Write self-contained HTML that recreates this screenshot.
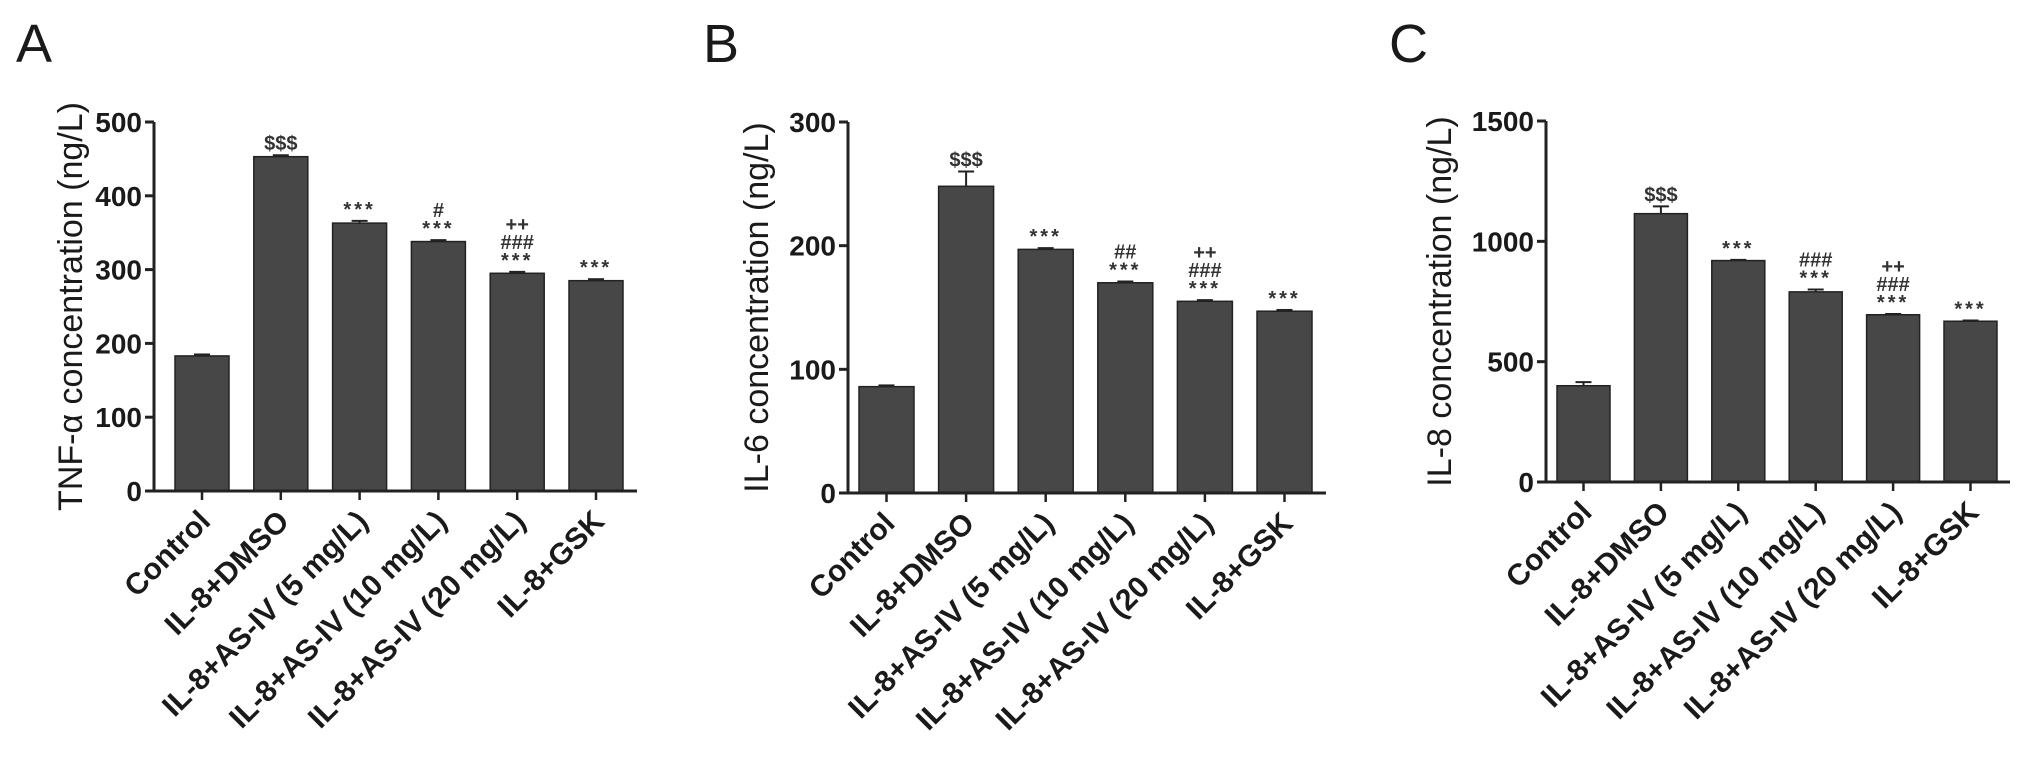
<!DOCTYPE html>
<html><head><meta charset="utf-8"><style>
html,body{margin:0;padding:0;background:#fff;}
svg{display:block;font-family:"Liberation Sans",Arial,sans-serif;}
</style></head><body>
<svg id="fig" width="2043" height="782" viewBox="0 0 2043 782" xmlns="http://www.w3.org/2000/svg"></svg>
<script>
const categories = ["Control","IL-8+DMSO","IL-8+AS-IV (5 mg/L)","IL-8+AS-IV (10 mg/L)","IL-8+AS-IV (20 mg/L)","IL-8+GSK"];
const tnfValues = [183,453,363,338,295,285];
const tnfErrors = [2,2,3,2,2,2];
const il6Values = [86,248,197,170,155,147];
const il6Errors = [1,12,1,1,1,1];
const il8Values = [400,1115,920,790,695,668];
const il8Errors = [15,30,3,10,3,3];
const tnfTicks = [0,100,200,300,400,500];
const il6Ticks = [0,100,200,300];
const il8Ticks = [0,500,1000,1500];
const tnfAnn = [[],["$$$"],["***"],["#","***"],["++","###","***"],["***"]];
const il6Ann = [[],["$$$"],["***"],["##","***"],["++","###","***"],["***"]];
const il8Ann = [[],["$$$"],["***"],["###","***"],["++","###","***"],["***"]];

const NS="http://www.w3.org/2000/svg";
const svg=document.getElementById('fig');
function mk(tag,attrs,parent){const e=document.createElementNS(NS,tag);for(const k in attrs)e.setAttribute(k,attrs[k]);(parent||svg).appendChild(e);return e;}

function panel(cfg){
  const g=mk('g',{});
  
  
  const y=v=>cfg.y0-(v/cfg.max)*(cfg.y0-cfg.yTop);
  const x=i=>cfg.c0+i*cfg.pitch;
  const letter=mk('text',{x:cfg.lx,y:62,'font-size':54,fill:'#1a1a1a'},g);letter.textContent=cfg.letter;
  
  
  cfg.values.forEach((v,i)=>{
    const cx=x(i),top=y(v),et=y(v+cfg.errors[i]);
    const eb=mk('g',{stroke:'#222','stroke-width':2},g);
    mk('line',{x1:cx,x2:cx,y1:top,y2:et},eb);
    mk('line',{x1:cx-8,x2:cx+8,y1:et,y2:et},eb);
    
    
    const r=mk('rect',{x:cx-cfg.bw/2,y:top,width:cfg.bw,height:cfg.y0-top,fill:'#474747',stroke:'#222','stroke-width':1.5},g);
    
    
    const ann=cfg.ann[i];
    ann.forEach((s,k)=>{
      const t=mk('text',{x:cx,y:et-5-(ann.length-1-k)*18,'text-anchor':'middle','font-size':20,'font-weight':'bold','letter-spacing':s[0]==='*'?3:0,fill:'#333'},g);
      t.textContent=s;
      
      
    });
    mk('line',{x1:cx,x2:cx,y1:cfg.y0,y2:cfg.y0+9,stroke:'#222','stroke-width':2.5},g);
    const lx=cx+10, ly=cfg.y0+32;
    const lt=mk('text',{x:lx,y:ly,'text-anchor':'end','font-size':30,'font-weight':'bold',fill:'#1a1a1a',transform:`rotate(-45 ${lx} ${ly})`},g);
    lt.textContent=categories[i];
    
    
  });
  const ax=mk('line',{x1:cfg.ax,x2:cfg.ax,y1:cfg.yTop,y2:cfg.y0,stroke:'#222','stroke-width':3},g);
  
  
  const xa=mk('line',{x1:cfg.ax-9,x2:cfg.xEnd,y1:cfg.y0,y2:cfg.y0,stroke:'#222','stroke-width':3},g);
  
  
  cfg.ticks.forEach(tv=>{
    mk('line',{x1:cfg.ax-9,x2:cfg.ax,y1:y(tv),y2:y(tv),stroke:'#222','stroke-width':3},g);
    const t=mk('text',{x:cfg.ax-12,y:y(tv)+10,'text-anchor':'end','font-size':28,'font-weight':'bold',fill:'#1a1a1a'},g);
    t.textContent=tv;
    
    
  });
  const ty=(cfg.y0+cfg.yTop)/2;
  const tt=mk('text',{x:cfg.tx+12,y:ty,'text-anchor':'middle','font-size':34,fill:'#1a1a1a',transform:`rotate(-90 ${cfg.tx+12} ${ty})`},g);
  tt.textContent=cfg.title;
  
  
}
panel({name:'panel-a-tnf',letter:'A',lx:16,values:tnfValues,errors:tnfErrors,ticks:tnfTicks,ann:tnfAnn,max:500,y0:491,yTop:122,ax:154,xEnd:637,c0:202,pitch:78.8,bw:54,tx:70,title:'TNF-α concentration (ng/L)'});
panel({name:'panel-b-il6',letter:'B',lx:703,values:il6Values,errors:il6Errors,ticks:il6Ticks,ann:il6Ann,max:300,y0:493,yTop:122,ax:848,xEnd:1326,c0:886.5,pitch:79.6,bw:55,tx:756,title:'IL-6 concentration (ng/L)'});
panel({name:'panel-c-il8',letter:'C',lx:1389,values:il8Values,errors:il8Errors,ticks:il8Ticks,ann:il8Ann,max:1500,y0:482,yTop:121,ax:1546,xEnd:2010,c0:1583.5,pitch:77.4,bw:53,tx:1439,title:'IL-8 concentration (ng/L)'});
</script>
</body></html>
